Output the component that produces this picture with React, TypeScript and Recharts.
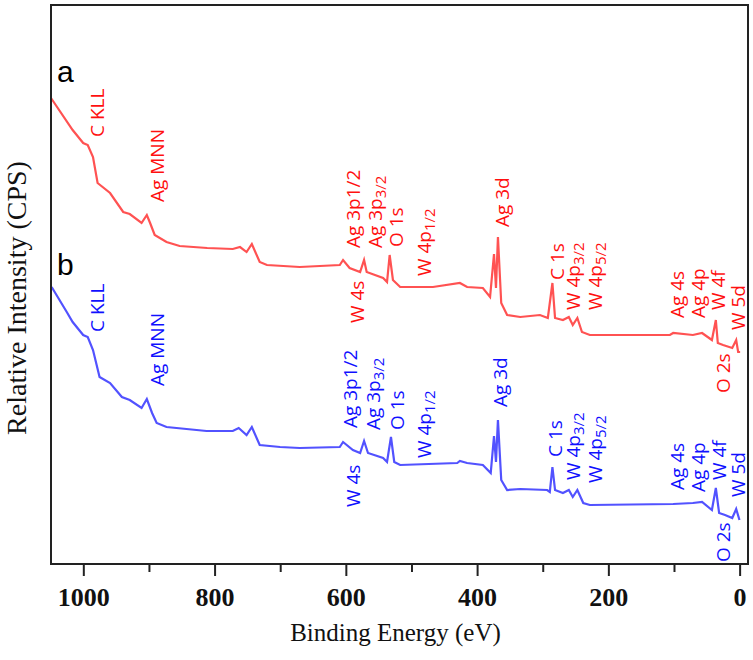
import { LineChart, Line, XAxis, YAxis, ReferenceDot, ReferenceArea } from 'recharts';

// binding energy (eV) and relative intensity
const redEnergy = [
  1050, 1017, 1001, 994, 986, 979, 960, 940, 930, 912, 904, 899, 892, 874, 854, 812, 773, 762, 752, 744,
  732, 721, 671, 610, 605, 595, 579, 573, 569, 544, 538, 534, 529, 518, 468, 427, 416, 392, 381, 375,
  372, 369, 364, 355, 335, 305, 293, 286, 282, 270, 261, 255, 248, 241, 229, 107, 102, 72, 58, 43,
  37, 34, 26, 12, 6, 3, 0,
];
const redCounts = [
  466, 434, 421, 419, 407, 381, 371, 352, 350, 341, 349, 341, 329, 322, 318, 316, 315, 317, 312, 320,
  302, 299, 297, 299, 304, 296, 292, 304, 292, 286, 282, 309, 284, 277, 277, 281, 277, 276, 267, 310,
  276, 327, 261, 249, 247, 249, 246, 281, 246, 244, 247, 239, 246, 232, 229, 229, 231, 229, 231, 224,
  244, 221, 219, 216, 224, 212, 212,
];

const blueEnergy = [
  1049, 1026, 1017, 1001, 994, 986, 976, 960, 942, 930, 912, 904, 896, 889, 874, 813, 773, 764, 752, 744,
  732, 701, 671, 610, 605, 590, 579, 573, 567, 544, 538, 532, 527, 518, 431, 427, 416, 392, 380, 375,
  372, 369, 364, 355, 335, 294, 290, 286, 282, 270, 261, 255, 248, 239, 229, 102, 72, 58, 43, 37,
  32, 23, 12, 6, 1,
];
const blueCounts = [
  277, 252, 242, 229, 227, 214, 187, 181, 167, 164, 156, 165, 151, 141, 137, 133, 133, 136, 129, 137,
  119, 117, 116, 117, 122, 114, 111, 123, 111, 106, 102, 127, 102, 99, 101, 103, 101, 99, 91, 128,
  102, 144, 84, 74, 75, 74, 72, 97, 74, 71, 74, 67, 74, 61, 59, 60, 61, 62, 54, 76,
  51, 49, 46, 55, 44,
];

// peak labels: text, subscript, energy and intensity of the label's lower end
const peakNames = ['C KLL', 'Ag MNN', 'Ag 3p1/2', 'Ag 3p', 'O 1s', 'W 4p', 'W 4s', 'Ag 3d', 'C 1s', 'W 4p', 'W 4p', 'Ag 4s', 'Ag 4p', 'W 4f', 'W 5d', 'O 2s'];
const peakSubs = ['', '', '', '3/2', '', '1/2', '', '', '', '3/2', '5/2', '', '', '', '', ''];
const redLabelEnergy = [980, 888, 590, 556, 524, 481, 584, 363, 279, 254, 221, 96, 64, 34, 3, 26];
const redLabelCounts = [427, 362, 316, 316, 317, 288, 241, 337, 284, 254, 254, 246, 246, 254, 234, 171];
const blueLabelEnergy = [980, 888, 594, 559, 523, 481, 590, 366, 282, 254, 221, 96, 64, 32, 3, 26];
const blueLabelCounts = [232, 178, 136, 134, 134, 106, 57, 157, 107, 84, 81, 74, 72, 84, 67, 2];

const xTicks = [0, 100, 200, 300, 400, 500, 600, 700, 800, 900, 1000];

const redData = redEnergy.map((e, i) => ({ e, v: redCounts[i] }));
const blueData = blueEnergy.map((e, i) => ({ e, v: blueCounts[i] }));

const AXIS = '#222';
const SERIF = "'Liberation Serif', 'Times New Roman', serif";

function PeakText({ cx, cy, text, sub, color }: any) {
  return (
    <text
      x={cx}
      y={cy + 7}
      transform={`rotate(-90 ${cx} ${cy})`}
      fill={color}
      fontSize={19}
      fontFamily="'Open Sans', sans-serif"
      textAnchor="start"
    >
      {text}
      {sub && (
        <tspan fontSize={15} dy={4}>
          {sub}
        </tspan>
      )}
    </text>
  );
}

function EnergyTick({ x, y, payload }: any) {
  const major = payload.value % 200 === 0;
  return (
    <g>
      <line x1={x} x2={x} y1={y} y2={y + (major ? 12 : 8)} stroke={AXIS} strokeWidth={2} />
      {major && (
        <text x={x} y={y + 42} textAnchor="middle" fontFamily={SERIF} fontWeight="bold" fontSize={26} fill="#111">
          {payload.value}
        </text>
      )}
    </g>
  );
}

export default function App() {
  return (
    <div style={{ position: 'absolute', left: 0, top: 0, background: '#fff' }}>
      <LineChart width={753} height={660} margin={{ top: 5, right: 5, left: 0, bottom: 0 }}>
        <XAxis
          dataKey="e"
          type="number"
          domain={[-12, 1050]}
          reversed
          ticks={xTicks}
          interval={0}
          tickSize={0}
          tickMargin={0}
          tick={<EnergyTick />}
          height={96}
          axisLine={{ stroke: AXIS, strokeWidth: 2 }}
          tickLine={false}
          label={{
            content: ({ viewBox }: any) => (
              <text
                x={viewBox.x + viewBox.width / 2 - 4}
                y={641}
                textAnchor="middle"
                fontFamily={SERIF}
                fontSize={25}
                fill="#111"
              >
                Binding Energy (eV)
              </text>
            ),
          }}
        />
        <YAxis
          type="number"
          domain={[0, 559]}
          width={51}
          tick={false}
          tickLine={false}
          axisLine={{ stroke: AXIS, strokeWidth: 2 }}
          label={{
            content: () => (
              <text
                x={16}
                y={298}
                transform="rotate(-90 16 298)"
                textAnchor="middle"
                dominantBaseline="central"
                fontFamily={SERIF}
                fontSize={28}
                fill="#111"
              >
                Relative Intensity (CPS)
              </text>
            ),
          }}
        />

        {/* frame: top and right edges */}
        <ReferenceArea x1={-12} x2={1050} y1={0} y2={559} fill="none" stroke={AXIS} strokeWidth={2} />

        <Line data={redData} dataKey="v" stroke="#ff5252" strokeWidth={2.2} dot={false} isAnimationActive={false} />
        <Line data={blueData} dataKey="v" stroke="#5252ff" strokeWidth={2.2} dot={false} isAnimationActive={false} />

        {peakNames.map((name, i) => (
          <ReferenceDot
            key={`r${i}`}
            x={redLabelEnergy[i]}
            y={redLabelCounts[i]}
            r={0}
            shape={(p: any) => <PeakText cx={p.cx} cy={p.cy} text={name} sub={peakSubs[i]} color="#ff1010" />}
          />
        ))}
        {peakNames.map((name, i) => (
          <ReferenceDot
            key={`b${i}`}
            x={blueLabelEnergy[i]}
            y={blueLabelCounts[i]}
            r={0}
            shape={(p: any) => <PeakText cx={p.cx} cy={p.cy} text={name} sub={peakSubs[i]} color="#1010ff" />}
          />
        ))}

        {/* panel letters */}
        <ReferenceDot
          x={1041}
          y={482}
          r={0}
          shape={(p: any) => (
            <text x={p.cx} y={p.cy} fontSize={30} fontFamily="'Liberation Sans', Arial, sans-serif" fill="#000">
              a
            </text>
          )}
        />
        <ReferenceDot
          x={1041}
          y={289}
          r={0}
          shape={(p: any) => (
            <text x={p.cx} y={p.cy} fontSize={30} fontFamily="'Liberation Sans', Arial, sans-serif" fill="#000">
              b
            </text>
          )}
        />
      </LineChart>
    </div>
  );
}
